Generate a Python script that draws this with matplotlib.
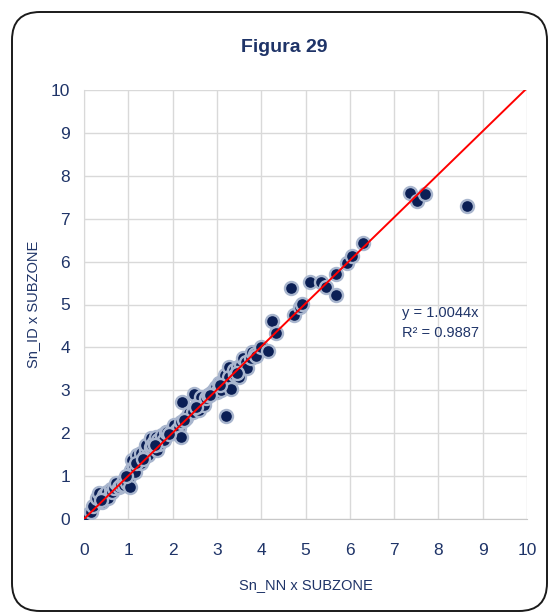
import matplotlib
matplotlib.use("Agg")
import matplotlib.pyplot as plt
from matplotlib.patches import FancyBboxPatch
from matplotlib.transforms import IdentityTransform
import numpy as np

# ---- data ----
sn_nn = [0.07, 0.15, 0.20, 0.29, 0.34, 0.41, 0.45, 0.52, 0.55, 0.60, 0.64, 0.68, 0.72, 0.78,
         0.83, 0.90, 0.90, 0.97, 1.02, 1.04, 1.06, 1.09, 1.13, 1.15, 1.20, 1.24, 1.28, 1.29,
         1.35, 1.40, 1.40, 1.45, 1.51, 1.52, 1.54, 1.58, 1.63, 1.65, 1.66, 1.70, 1.77, 1.77,
         1.80, 1.86, 1.88, 1.97, 2.04, 2.04, 2.11, 2.15, 2.19, 2.19, 2.22, 2.30, 2.38, 2.45,
         2.49, 2.56, 2.60, 2.64, 2.65, 2.70, 2.76, 2.80, 2.87, 2.94, 2.98, 3.00, 3.05, 3.10,
         3.14, 3.19, 3.20, 3.25, 3.27, 3.28, 3.32, 3.38, 3.40, 3.48, 3.51, 3.55, 3.58, 3.66,
         3.69, 3.77, 3.80, 3.85, 3.89, 4.00, 4.16, 4.25, 4.34, 4.68, 4.75, 4.88, 4.93, 5.11,
         5.34, 5.47, 5.68, 5.68, 5.93, 6.06, 6.29, 7.35, 7.51, 7.69, 8.64,
         0.38, 0.95, 1.18, 1.33, 1.60, 1.93, 2.25, 2.52, 2.85, 3.08, 3.45]
sn_id = [0.09, 0.16, 0.30, 0.49, 0.60, 0.40, 0.56, 0.63, 0.50, 0.70, 0.63, 0.72, 0.84, 0.75,
         0.79, 0.91, 0.80, 0.84, 0.98, 0.75, 1.14, 1.38, 1.21, 1.10, 1.49, 1.33, 1.54, 1.31,
         1.45, 1.61, 1.72, 1.50, 1.89, 1.68, 1.72, 1.79, 1.91, 1.61, 1.84, 1.75, 1.91, 1.96,
         1.85, 2.03, 2.03, 2.03, 2.00, 2.19, 2.07, 2.12, 2.26, 1.91, 2.73, 2.35, 2.47, 2.50,
         2.91, 2.66, 2.54, 2.77, 2.84, 2.65, 2.82, 2.90, 2.94, 3.00, 3.08, 2.95, 3.17, 3.00,
         3.22, 3.36, 2.40, 3.20, 3.55, 3.31, 3.03, 3.47, 3.35, 3.55, 3.31, 3.60, 3.75, 3.66,
         3.52, 3.75, 3.89, 3.85, 3.80, 4.00, 3.92, 4.61, 4.34, 5.38, 4.76, 4.95, 5.01, 5.52,
         5.52, 5.41, 5.22, 5.71, 5.97, 6.13, 6.43, 7.60, 7.41, 7.58, 7.30,
         0.45, 1.00, 1.30, 1.40, 1.72, 1.98, 2.30, 2.62, 2.88, 3.12, 3.40]
slope = 1.0044
r2 = 0.9887
ticks = list(range(0, 11))

title = "Figura 29"
xlabel = "Sn_NN x SUBZONE"
ylabel = "Sn_ID x SUBZONE"

# ---- style ----
navy_text = "#1F3468"
dot_face = "#0B1F55"
dot_edge = "#A9B6CE"
grid_c = "#D9D9D9"
fam = ["Liberation Sans", "DejaVu Sans"]
plt.rcParams["font.family"] = fam

fig = plt.figure(figsize=(5.5, 6.13), dpi=100)
ax = fig.add_axes([84 / 550, 94 / 613, 443 / 550, 429 / 613])

ax.scatter(sn_nn, sn_id, s=88, facecolor=dot_face, edgecolor=dot_edge,
           linewidths=1.7, zorder=3)
xl = np.array([0, 10])
ax.plot(xl, slope * xl, color="#FF0000", lw=1.4, zorder=4)

ax.set_xlim(0, 10)
ax.set_ylim(0, 10)
ax.set_xticks(ticks)
ax.set_yticks(ticks)
ax.grid(True, color=grid_c, lw=1.0, zorder=0)
ax.set_axisbelow(True)
for s in ax.spines.values():
    s.set_visible(False)
ax.spines["bottom"].set_visible(True)
ax.spines["bottom"].set_color("#C8C8C8")
ax.spines["left"].set_visible(True)
ax.spines["left"].set_color(grid_c)
ax.tick_params(axis="both", length=0, labelsize=12.5, colors=navy_text)
ax.tick_params(axis="x", pad=17)
ax.tick_params(axis="y", pad=10)

ax.set_xlabel(xlabel, fontsize=10.5, color=navy_text, labelpad=15)
ax.set_ylabel(ylabel, fontsize=10.5, color=navy_text, labelpad=8)

ax.text(8.91, 4.80, "y = 1.0044x", ha="right", va="center", fontsize=10.5, color=navy_text)
ax.text(8.91, 4.34, "R² = 0.9887", ha="right", va="center", fontsize=10.5, color=navy_text)

fig.text(284 / 550, 1 - 47 / 613, title, ha="center", va="center",
         fontsize=14, fontweight="bold", color=navy_text)

frame = FancyBboxPatch((12, 2), 535, 599, boxstyle="round,pad=0,rounding_size=28",
                       transform=IdentityTransform(), facecolor="none",
                       edgecolor="#1A1A1A", lw=1.4)
fig.patches.append(frame)

fig.savefig("out.png", dpi=100)
